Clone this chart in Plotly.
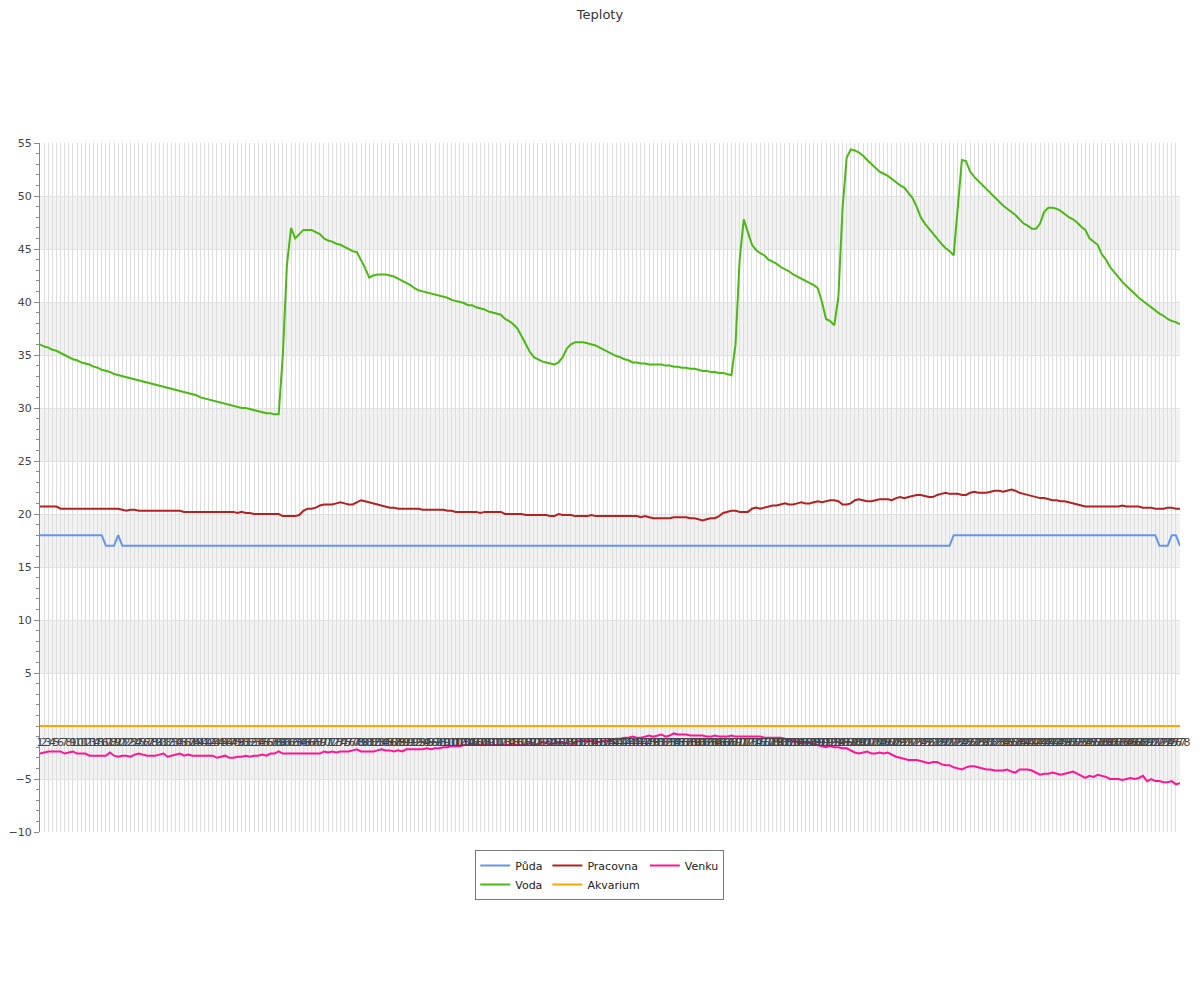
import plotly.graph_objects as go

categories = [str(n) for n in range(1, 279)]

puda = [
    18, 18, 18, 18, 18, 18, 18, 18, 18, 18,
    18, 18, 18, 18, 18, 18, 17, 17, 17, 18,
    17, 17, 17, 17, 17, 17, 17, 17, 17, 17,
    17, 17, 17, 17, 17, 17, 17, 17, 17, 17,
    17, 17, 17, 17, 17, 17, 17, 17, 17, 17,
    17, 17, 17, 17, 17, 17, 17, 17, 17, 17,
    17, 17, 17, 17, 17, 17, 17, 17, 17, 17,
    17, 17, 17, 17, 17, 17, 17, 17, 17, 17,
    17, 17, 17, 17, 17, 17, 17, 17, 17, 17,
    17, 17, 17, 17, 17, 17, 17, 17, 17, 17,
    17, 17, 17, 17, 17, 17, 17, 17, 17, 17,
    17, 17, 17, 17, 17, 17, 17, 17, 17, 17,
    17, 17, 17, 17, 17, 17, 17, 17, 17, 17,
    17, 17, 17, 17, 17, 17, 17, 17, 17, 17,
    17, 17, 17, 17, 17, 17, 17, 17, 17, 17,
    17, 17, 17, 17, 17, 17, 17, 17, 17, 17,
    17, 17, 17, 17, 17, 17, 17, 17, 17, 17,
    17, 17, 17, 17, 17, 17, 17, 17, 17, 17,
    17, 17, 17, 17, 17, 17, 17, 17, 17, 17,
    17, 17, 17, 17, 17, 17, 17, 17, 17, 17,
    17, 17, 17, 17, 17, 17, 17, 17, 17, 17,
    17, 17, 17, 17, 17, 17, 17, 17, 17, 17,
    17, 17, 18, 18, 18, 18, 18, 18, 18, 18,
    18, 18, 18, 18, 18, 18, 18, 18, 18, 18,
    18, 18, 18, 18, 18, 18, 18, 18, 18, 18,
    18, 18, 18, 18, 18, 18, 18, 18, 18, 18,
    18, 18, 18, 18, 18, 18, 18, 18, 18, 18,
    18, 18, 17, 17, 17, 18, 18, 17,
]

voda = [
    36.0, 35.8, 35.7, 35.5, 35.4, 35.2, 35.0, 34.8, 34.6, 34.5,
    34.3, 34.2, 34.1, 33.9, 33.8, 33.6, 33.5, 33.4, 33.2, 33.1,
    33.0, 32.9, 32.8, 32.7, 32.6, 32.5, 32.4, 32.3, 32.2, 32.1,
    32.0, 31.9, 31.8, 31.7, 31.6, 31.5, 31.4, 31.3, 31.2, 31.0,
    30.9, 30.8, 30.7, 30.6, 30.5, 30.4, 30.3, 30.2, 30.1, 30.0,
    30.0, 29.9, 29.8, 29.7, 29.6, 29.5, 29.5, 29.4, 29.4, 35.0,
    43.5, 47.0, 46.0, 46.4, 46.8, 46.8, 46.8, 46.6, 46.4, 46.0,
    45.8, 45.7, 45.5, 45.4, 45.2, 45.0, 44.8, 44.7, 44.0, 43.2,
    42.3, 42.5, 42.6, 42.6, 42.6, 42.5, 42.4, 42.2, 42.0, 41.8,
    41.6, 41.3, 41.1, 41.0, 40.9, 40.8, 40.7, 40.6, 40.5, 40.4,
    40.2, 40.1, 40.0, 39.9, 39.7, 39.7, 39.5, 39.4, 39.3, 39.1,
    39.0, 38.9, 38.8, 38.4, 38.2, 37.9, 37.5, 36.8, 36.1, 35.3,
    34.8, 34.6, 34.4, 34.3, 34.2, 34.1, 34.3, 34.8, 35.6, 36.0,
    36.2, 36.2, 36.2, 36.1, 36.0, 35.9, 35.7, 35.5, 35.3, 35.1,
    34.9, 34.8, 34.6, 34.5, 34.3, 34.3, 34.2, 34.2, 34.1, 34.1,
    34.1, 34.1, 34.0, 34.0, 33.9, 33.9, 33.8, 33.8, 33.7, 33.7,
    33.6, 33.5, 33.5, 33.4, 33.4, 33.3, 33.3, 33.2, 33.1, 36.0,
    44.0, 47.8, 46.5, 45.4, 44.9, 44.6, 44.4, 44.0, 43.8, 43.6,
    43.3, 43.1, 42.9, 42.6, 42.4, 42.2, 42.0, 41.8, 41.6, 41.3,
    40.0, 38.4, 38.2, 37.8, 40.5, 48.8, 53.6, 54.4, 54.3, 54.1,
    53.8, 53.4, 53.0, 52.6, 52.3, 52.1, 51.9, 51.6, 51.3, 51.0,
    50.8, 50.3, 49.8, 49.0, 48.0, 47.4, 46.9, 46.4, 45.9, 45.5,
    45.1, 44.8, 44.4, 49.0, 53.4, 53.3, 52.3, 51.8, 51.4, 51.0,
    50.6, 50.2, 49.9, 49.5, 49.1, 48.8, 48.5, 48.2, 47.8, 47.4,
    47.2, 46.9, 46.9, 47.4, 48.5, 48.9, 48.9, 48.8, 48.6, 48.3,
    48.0, 47.8, 47.5, 47.1, 46.8, 46.0, 45.7, 45.4, 44.5, 44.0,
    43.3, 42.8, 42.3, 41.9, 41.5, 41.1, 40.7, 40.4, 40.1, 39.8,
    39.5, 39.2, 38.9, 38.7, 38.4, 38.2, 38.1, 37.9,
]

pracovna = [
    20.7, 20.7, 20.7, 20.7, 20.7, 20.5, 20.5, 20.5, 20.5, 20.5,
    20.5, 20.5, 20.5, 20.5, 20.5, 20.5, 20.5, 20.5, 20.5, 20.5,
    20.4, 20.3, 20.4, 20.4, 20.3, 20.3, 20.3, 20.3, 20.3, 20.3,
    20.3, 20.3, 20.3, 20.3, 20.3, 20.2, 20.2, 20.2, 20.2, 20.2,
    20.2, 20.2, 20.2, 20.2, 20.2, 20.2, 20.2, 20.2, 20.1, 20.2,
    20.1, 20.1, 20.0, 20.0, 20.0, 20.0, 20.0, 20.0, 20.0, 19.8,
    19.8, 19.8, 19.8, 19.9, 20.3, 20.5, 20.5, 20.6, 20.8, 20.9,
    20.9, 20.9, 21.0, 21.1, 21.0, 20.9, 20.9, 21.1, 21.3, 21.2,
    21.1, 21.0, 20.9, 20.8, 20.7, 20.6, 20.6, 20.5, 20.5, 20.5,
    20.5, 20.5, 20.5, 20.4, 20.4, 20.4, 20.4, 20.4, 20.4, 20.3,
    20.3, 20.2, 20.2, 20.2, 20.2, 20.2, 20.2, 20.1, 20.2, 20.2,
    20.2, 20.2, 20.2, 20.0, 20.0, 20.0, 20.0, 20.0, 19.9, 19.9,
    19.9, 19.9, 19.9, 19.9, 19.8, 19.8, 20.0, 19.9, 19.9, 19.9,
    19.8, 19.8, 19.8, 19.8, 19.9, 19.8, 19.8, 19.8, 19.8, 19.8,
    19.8, 19.8, 19.8, 19.8, 19.8, 19.8, 19.7, 19.8, 19.7, 19.6,
    19.6, 19.6, 19.6, 19.6, 19.7, 19.7, 19.7, 19.7, 19.6, 19.6,
    19.5, 19.4, 19.5, 19.6, 19.6, 19.8, 20.1, 20.2, 20.3, 20.3,
    20.2, 20.2, 20.2, 20.5, 20.6, 20.5, 20.6, 20.7, 20.8, 20.8,
    20.9, 21.0, 20.9, 20.9, 21.0, 21.1, 21.0, 21.0, 21.1, 21.2,
    21.1, 21.2, 21.3, 21.3, 21.2, 20.9, 20.9, 21.0, 21.3, 21.4,
    21.3, 21.2, 21.2, 21.3, 21.4, 21.4, 21.4, 21.3, 21.5, 21.6,
    21.5, 21.6, 21.7, 21.8, 21.8, 21.7, 21.6, 21.6, 21.8, 21.9,
    22.0, 21.9, 21.9, 21.9, 21.8, 21.8, 22.0, 22.1, 22.0, 22.0,
    22.0, 22.1, 22.2, 22.2, 22.1, 22.2, 22.3, 22.2, 22.0, 21.9,
    21.8, 21.7, 21.6, 21.5, 21.5, 21.4, 21.3, 21.3, 21.2, 21.2,
    21.1, 21.0, 20.9, 20.8, 20.7, 20.7, 20.7, 20.7, 20.7, 20.7,
    20.7, 20.7, 20.7, 20.8, 20.7, 20.7, 20.7, 20.7, 20.6, 20.6,
    20.6, 20.5, 20.5, 20.5, 20.6, 20.6, 20.5, 20.5,
]

akvarium = [
    0, 0, 0, 0, 0, 0, 0, 0, 0, 0,
    0, 0, 0, 0, 0, 0, 0, 0, 0, 0,
    0, 0, 0, 0, 0, 0, 0, 0, 0, 0,
    0, 0, 0, 0, 0, 0, 0, 0, 0, 0,
    0, 0, 0, 0, 0, 0, 0, 0, 0, 0,
    0, 0, 0, 0, 0, 0, 0, 0, 0, 0,
    0, 0, 0, 0, 0, 0, 0, 0, 0, 0,
    0, 0, 0, 0, 0, 0, 0, 0, 0, 0,
    0, 0, 0, 0, 0, 0, 0, 0, 0, 0,
    0, 0, 0, 0, 0, 0, 0, 0, 0, 0,
    0, 0, 0, 0, 0, 0, 0, 0, 0, 0,
    0, 0, 0, 0, 0, 0, 0, 0, 0, 0,
    0, 0, 0, 0, 0, 0, 0, 0, 0, 0,
    0, 0, 0, 0, 0, 0, 0, 0, 0, 0,
    0, 0, 0, 0, 0, 0, 0, 0, 0, 0,
    0, 0, 0, 0, 0, 0, 0, 0, 0, 0,
    0, 0, 0, 0, 0, 0, 0, 0, 0, 0,
    0, 0, 0, 0, 0, 0, 0, 0, 0, 0,
    0, 0, 0, 0, 0, 0, 0, 0, 0, 0,
    0, 0, 0, 0, 0, 0, 0, 0, 0, 0,
    0, 0, 0, 0, 0, 0, 0, 0, 0, 0,
    0, 0, 0, 0, 0, 0, 0, 0, 0, 0,
    0, 0, 0, 0, 0, 0, 0, 0, 0, 0,
    0, 0, 0, 0, 0, 0, 0, 0, 0, 0,
    0, 0, 0, 0, 0, 0, 0, 0, 0, 0,
    0, 0, 0, 0, 0, 0, 0, 0, 0, 0,
    0, 0, 0, 0, 0, 0, 0, 0, 0, 0,
    0, 0, 0, 0, 0, 0, 0, 0,
]

venku = [
    -2.6, -2.5, -2.4, -2.4, -2.4, -2.4, -2.6, -2.5, -2.4, -2.6,
    -2.6, -2.6, -2.8, -2.8, -2.8, -2.8, -2.8, -2.5, -2.8, -2.9,
    -2.8, -2.8, -2.9, -2.7, -2.6, -2.7, -2.8, -2.8, -2.8, -2.7,
    -2.6, -2.9, -2.8, -2.7, -2.6, -2.8, -2.7, -2.8, -2.8, -2.8,
    -2.8, -2.8, -2.8, -3.0, -2.9, -2.8, -3.0, -3.0, -2.9, -2.9,
    -2.8, -2.9, -2.8, -2.8, -2.7, -2.8, -2.6, -2.6, -2.4, -2.6,
    -2.6, -2.6, -2.6, -2.6, -2.6, -2.6, -2.6, -2.6, -2.6, -2.4,
    -2.5, -2.4, -2.5, -2.4, -2.4, -2.4, -2.3, -2.2, -2.4, -2.4,
    -2.4, -2.4, -2.3, -2.2, -2.3, -2.3, -2.4, -2.3, -2.4, -2.2,
    -2.2, -2.2, -2.2, -2.2, -2.1, -2.2, -2.1, -2.1, -2.0, -2.0,
    -1.9, -1.9, -1.9, -1.8, -1.8, -1.8, -1.7, -1.8, -1.8, -1.7,
    -1.8, -1.8, -1.8, -1.8, -1.8, -1.8, -1.8, -1.8, -1.8, -1.6,
    -1.8, -1.7, -1.5, -1.6, -1.7, -1.6, -1.6, -1.6, -1.6, -1.7,
    -1.6, -1.4, -1.4, -1.4, -1.4, -1.5, -1.5, -1.4, -1.4, -1.3,
    -1.2, -1.2, -1.1, -1.1, -1.0, -1.1, -1.1, -1.0, -0.9, -1.0,
    -0.9, -0.8, -1.0, -0.9, -0.7, -0.8, -0.8, -0.8, -0.9, -0.9,
    -0.9, -0.9, -1.0, -1.0, -0.9, -1.0, -1.0, -1.0, -0.9, -1.0,
    -1.0, -1.0, -1.0, -1.0, -1.0, -1.0, -1.1, -1.1, -1.1, -1.1,
    -1.1, -1.2, -1.3, -1.4, -1.5, -1.5, -1.6, -1.6, -1.7, -1.8,
    -1.9, -2.0, -1.9, -2.0, -2.0, -2.1, -2.1, -2.3, -2.5, -2.6,
    -2.5, -2.4, -2.6, -2.6, -2.5, -2.6, -2.5, -2.7, -2.9, -3.0,
    -3.1, -3.2, -3.2, -3.2, -3.3, -3.4, -3.5, -3.4, -3.4, -3.6,
    -3.7, -3.7, -3.9, -4.0, -4.1, -3.9, -3.8, -3.8, -3.9, -4.0,
    -4.1, -4.1, -4.2, -4.2, -4.2, -4.1, -4.3, -4.4, -4.1, -4.1,
    -4.1, -4.2, -4.4, -4.6, -4.5, -4.5, -4.4, -4.5, -4.6, -4.5,
    -4.4, -4.3, -4.5, -4.7, -4.9, -4.7, -4.8, -4.6, -4.7, -4.8,
    -5.0, -5.0, -5.0, -5.1, -5.0, -4.9, -5.0, -4.9, -4.7, -5.2,
    -5.0, -5.2, -5.2, -5.3, -5.3, -5.2, -5.5, -5.4,
]

y_ticks = [-10, -5, 5, 10, 15, 20, 25, 30, 35, 40, 45, 50, 55]
band_starts = [45, 35, 25, 15, 5, -5]

series = [
    ("Půda", puda, "#6495ED", "g1"),
    ("Voda", voda, "#4cb814", "g1"),
    ("Pracovna", pracovna, "#B22222", "g2"),
    ("Akvarium", akvarium, "#FFA500", "g2"),
    ("Venku", venku, "#FF1493", "g3"),
]

FONT = "DejaVu Sans"

fig = go.Figure()
for name, vals, color, grp in series:
    fig.add_trace(go.Scatter(
        x=categories, y=vals, name=name, mode="lines",
        line=dict(color=color, width=2), legendgroup=grp,
    ))

shapes = []
for lo in band_starts:
    shapes.append(dict(
        type="rect", xref="paper", yref="y", x0=0, x1=1, y0=lo, y1=lo + 5,
        fillcolor="#f2f2f2", line=dict(width=0), layer="below",
    ))

fig.update_layout(
    width=1200, height=1000,
    margin=dict(l=32, r=28, t=135, b=176, autoexpand=False),
    paper_bgcolor="white", plot_bgcolor="white",
    font=dict(family=FONT, size=11, color="#444"),
    title=dict(text="Teploty", x=0.4933, xanchor="center", xref="container",
               yref="container", y=0.994, yanchor="middle",
               font=dict(family=FONT, size=13, color="#333")),
    shapes=shapes,
    showlegend=True,
    legend=dict(
        orientation="h", traceorder="grouped", tracegroupgap=0,
        itemwidth=30,
        x=0.491, xanchor="center", y=-0.026, yanchor="top",
        bordercolor="#777", borderwidth=1, bgcolor="white",
        font=dict(family=FONT, size=11, color="#222"),
    ),
    xaxis=dict(
        type="category", range=[0, len(categories) - 1], automargin=False,
        tickmode="linear", tick0=0, dtick=1, tickangle=0,
        showgrid=True, gridcolor="#dddddd", gridwidth=1,
        showline=False, zeroline=False,
        ticks="outside", ticklen=6, tickcolor="rgba(0,0,0,0)",
        anchor="free", position=10 / 65,
        tickfont=dict(family=FONT, size=11, color="#444"),
    ),
    yaxis=dict(
        range=[-10, 55], tickmode="array", tickvals=y_ticks, automargin=False,
        showgrid=True, gridcolor="#e2e2e2", gridwidth=1, zeroline=False,
        showline=True, linecolor="#888", linewidth=1,
        ticks="outside", ticklen=5, tickcolor="#888",
        minor=dict(dtick=1, tick0=0, ticks="outside", ticklen=3, tickcolor="#888", showgrid=False),
        tickfont=dict(family=FONT, size=11, color="#444"),
    ),
)

fig.write_html("out.html")
